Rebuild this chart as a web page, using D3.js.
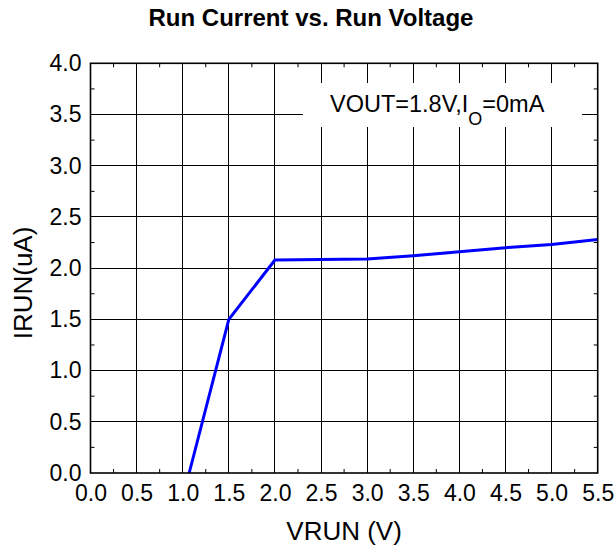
<!DOCTYPE html>
<html>
<head>
<meta charset="utf-8">
<script src="https://cdn.jsdelivr.net/npm/d3@7"></script>
<style>
  html, body { margin: 0; padding: 0; background: #fff; }
  svg text { font-family: "Liberation Sans", Arial, sans-serif; }
</style>
</head>
<body>
<svg id="chart" width="616" height="552"></svg>
<script>
// ---- data ----
const vrun = [1.07, 1.5, 2.0, 2.5, 3.0, 3.5, 4.0, 4.5, 5.0, 5.5];
const irun = [0.0, 1.5, 2.08, 2.085, 2.09, 2.12, 2.16, 2.20, 2.23, 2.28];
const xTicks = [0.0, 0.5, 1.0, 1.5, 2.0, 2.5, 3.0, 3.5, 4.0, 4.5, 5.0, 5.5];
const yTicks = [0.0, 0.5, 1.0, 1.5, 2.0, 2.5, 3.0, 3.5, 4.0];
const xMinor = d3.range(0.25, 5.5, 0.5);
const yMinor = d3.range(0.25, 4.0, 0.5);
const titleText = "Run Current vs. Run Voltage";
const xLabel = "VRUN (V)";
const yLabel = "IRUN(uA)";

// ---- layout ----
const L = 90.5, R = 597.7, T = 63.3, B = 473;
const svg = d3.select("#chart");
const x = d3.scaleLinear().domain([0, 5.5]).range([L, R]);
const y = d3.scaleLinear().domain([0, 4.0]).range([B, T]);

// grid
const grid = svg.append("g").attr("stroke", "#000").attr("stroke-width", 1).attr("shape-rendering", "crispEdges");
grid.selectAll(".gx").data(xTicks.slice(1, -1)).join("line")
  .attr("x1", d => x(d)).attr("x2", d => x(d)).attr("y1", T).attr("y2", B);
grid.selectAll(".gy").data(yTicks.slice(1, -1)).join("line")
  .attr("y1", d => y(d)).attr("y2", d => y(d)).attr("x1", L).attr("x2", R);

// minor ticks (inside, all four sides)
const mt = svg.append("g").attr("stroke", "#000").attr("stroke-width", 1);
const tl = 4;
xMinor.forEach(v => {
  mt.append("line").attr("x1", x(v)).attr("x2", x(v)).attr("y1", B).attr("y2", B - tl);
  mt.append("line").attr("x1", x(v)).attr("x2", x(v)).attr("y1", T).attr("y2", T + tl);
});
yMinor.forEach(v => {
  mt.append("line").attr("y1", y(v)).attr("y2", y(v)).attr("x1", L).attr("x2", L + tl);
  mt.append("line").attr("y1", y(v)).attr("y2", y(v)).attr("x1", R).attr("x2", R - tl);
});

// annotation box
svg.append("rect").attr("x", 303).attr("y", 83).attr("width", 279).attr("height", 44).attr("fill", "#fff");
const ann = svg.append("text").attr("x", 330).attr("y", 112).attr("font-size", 23.5).attr("fill", "#000");
ann.append("tspan").text("VOUT=1.8V,I");
ann.append("tspan").attr("font-size", 18).attr("dy", 13).text("O");
ann.append("tspan").attr("dy", -13).text("=0mA");

// axes with library
const xAxis = d3.axisBottom(x).tickValues(xTicks).tickFormat(d3.format(".1f")).tickSize(0).tickPadding(12);
const yAxis = d3.axisLeft(y).tickValues(yTicks).tickFormat(d3.format(".1f")).tickSize(0).tickPadding(9);
const gx = svg.append("g").attr("transform", `translate(0,${B})`).call(xAxis);
const gy = svg.append("g").attr("transform", `translate(${L},0)`).call(yAxis);
[gx, gy].forEach(g => {
  g.select(".domain").remove();
  g.selectAll("text").attr("font-size", 23).attr("fill", "#000")
    .attr("font-family", '"Liberation Sans", Arial, sans-serif');
});

// data line
const line = d3.line().x((d, i) => x(vrun[i])).y((d, i) => y(irun[i]));
svg.append("path").datum(irun).attr("d", line)
  .attr("fill", "none").attr("stroke", "#0000ff").attr("stroke-width", 3).attr("stroke-linejoin", "round");

// frame
svg.append("rect").attr("x", L).attr("y", T).attr("width", R - L).attr("height", B - T)
  .attr("fill", "none").attr("stroke", "#000").attr("stroke-width", 1.6);

// titles
svg.append("text").attr("x", 311).attr("y", 26).attr("text-anchor", "middle")
  .attr("font-size", 24).attr("font-weight", "bold").text(titleText);
svg.append("text").attr("x", (L + R) / 2).attr("y", 540).attr("text-anchor", "middle")
  .attr("font-size", 26).text(xLabel);
svg.append("text").attr("transform", "translate(32,283) rotate(-90)").attr("text-anchor", "middle")
  .attr("font-size", 26).text(yLabel);
</script>
</body>
</html>
